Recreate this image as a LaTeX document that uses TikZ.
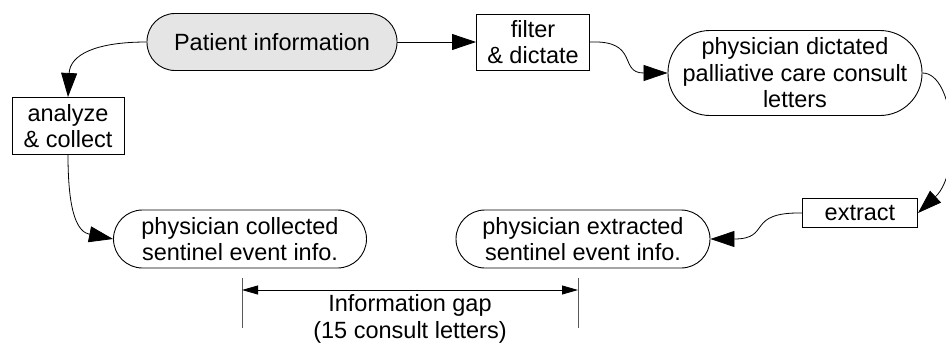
\documentclass[tikz,border=0pt]{standalone}
\usepackage{fontspec}
\setmainfont{Liberation Sans}
\usetikzlibrary{arrows.meta}
\begin{document}
\begin{tikzpicture}[x=1pt,y=-1pt,
  every node/.style={font=\fontsize{23.5}{26.5}\selectfont, align=center, inner sep=0pt},
  stadium/.style={draw, line width=0.9pt, rounded corners=#1},
  stepbox/.style={draw, line width=1pt},
  flow/.style={line width=0.8pt, -{Triangle[length=24pt,width=16pt]}},
  gapline/.style={line width=1pt, draw=black!65}
]
\useasboundingbox (0,0) rectangle (946,343);

% states
\node[stadium=28, fill=black!10, minimum width=250pt, minimum height=57pt] (patient) at (272,42) {Patient information};
\node[stadium=42, minimum width=254pt, minimum height=85pt] (dictated) at (795,73)
  {physician dictated\\palliative care consult\\letters};
\node[stadium=29, minimum width=253pt, minimum height=58pt] (collected) at (240,239)
  {physician collected\\sentinel event info.};
\node[stadium=29, minimum width=254pt, minimum height=58pt] (extracted) at (583,239)
  {physician extracted\\sentinel event info.};

% actions
\node[stepbox, minimum width=113pt, minimum height=56pt] (filter) at (533,42) {filter\\\& dictate};
\node[stepbox, minimum width=112pt, minimum height=57pt] (analyze) at (68,126) {analyze\\\& collect};
\node[stepbox, minimum width=115pt, minimum height=29pt] (extract) at (860,213) {extract};

% flow
\draw[flow] (patient.west) .. controls (95,42) and (70,55) .. (analyze.north);
\draw[flow] (patient.east) -- (filter.west);
\draw[flow] (filter.east) .. controls (640,40) and (618,73) .. (dictated.west);
\draw[flow] (dictated.east) .. controls (955,73) and (962,172) .. (extract.east);
\draw[flow] (extract.west) .. controls (745,212) and (772,239) .. (extracted.east);
\draw[flow] (analyze.south) .. controls (68,215) and (78,232) .. (collected.west);

% information gap
\coordinate (gL1) at (242,278); \coordinate (gL2) at (242,328);
\coordinate (gR1) at (578,278); \coordinate (gR2) at (578,328);
\coordinate (aL) at (242,290); \coordinate (aR) at (578,290);
\draw[gapline] (gL1) -- (gL2);
\draw[gapline] (gR1) -- (gR2);
\draw[line width=0.8pt, {Triangle[length=16pt,width=9pt]}-{Triangle[length=16pt,width=9pt]}] (aL) -- (aR);
\node (gap) at (410,319) {Information gap\\(15 consult letters)};
\end{tikzpicture}
\end{document}
